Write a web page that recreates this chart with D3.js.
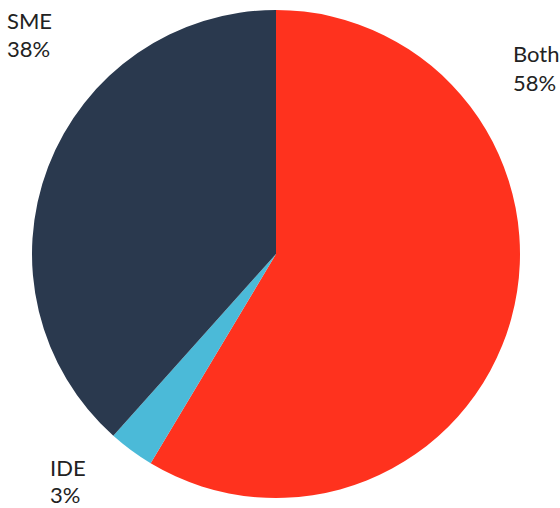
<!DOCTYPE html>
<html>
<head>
<meta charset="utf-8">
<script src="https://cdn.jsdelivr.net/npm/d3@7"></script>
<style>
  body { margin: 0; background: #fff; }
  text { font-family: Lato, "Open Sans", sans-serif; font-size: 22px; fill: #222; }
</style>
</head>
<body>
<svg id="chart" width="560" height="508"></svg>
<script>
const categories = ['Both', 'IDE', 'SME'];
const values = [58, 3, 38];
const colors = ['#ff321e', '#4bbad8', '#2a394e'];
const labelText = ['58%', '3%', '38%'];

const CENTER_X = 276;
const CENTER_Y = 254;
const RADIUS = 244;

// label anchor points, picked to match the original layout
const LABEL_POS = [
  { x: 513, y: 62, gap: 29 },
  { x: 50, y: 476, gap: 27 },
  { x: 7, y: 29, gap: 28 }
];

const svg = d3.select('#chart');

const pie = d3.pie().sort(null).value(d => d.value);
const arc = d3.arc().innerRadius(0).outerRadius(RADIUS);

const data = categories.map((c, i) => ({ name: c, value: values[i], color: colors[i], label: labelText[i] }));

const g = svg.append('g')
  .attr('transform', `translate(${CENTER_X},${CENTER_Y})`);

g.selectAll('path')
  .data(pie(data))
  .join('path')
    .attr('d', arc)
    .attr('fill', d => d.data.color);

const labels = svg.selectAll('text.lbl')
  .data(data)
  .join('text')
    .attr('class', 'lbl')
    .attr('x', (d, i) => LABEL_POS[i].x)
    .attr('y', (d, i) => LABEL_POS[i].y);

labels.append('tspan')
  .text(d => d.name);

labels.append('tspan')
  .attr('x', (d, i) => LABEL_POS[i].x)
  .attr('dy', (d, i) => LABEL_POS[i].gap)
  .text(d => d.label);
</script>
</body>
</html>
